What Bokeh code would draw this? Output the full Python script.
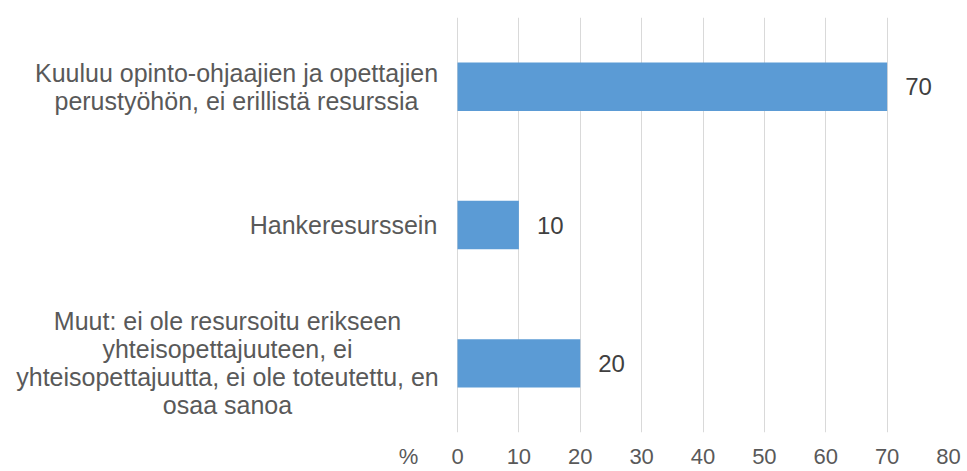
from bokeh.plotting import figure
from bokeh.models import (FactorRange, Range1d, ColumnDataSource, LabelSet,
                          FixedTicker)
from bokeh.core.properties import value
from bokeh.embed import file_html
from bokeh.resources import INLINE

categories = [
    "Kuuluu opinto-ohjaajien ja opettajien\nperustyöhön, ei erillistä resurssia",
    "Hankeresurssein",
    "Muut: ei ole resursoitu erikseen\nyhteisopettajuuteen, ei\nyhteisopettajuutta, ei ole toteutettu, en\nosaa sanoa",
]
values = [70, 10, 20]
value_labels = ["70", "10", "20"]
x_ticks = [0, 10, 20, 30, 40, 50, 60, 70, 80]
axis_unit = "%"

FONT = "Liberation Sans"
BAR = "#5B9BD5"

# layout (pixels): frame spans the whole width so the category texts can live in it
W, H = 967, 471
ZERO_PX, END_PX = 457, 948
px_per_unit = (END_PX - ZERO_PX) / 80.0
x_start = -ZERO_PX / px_per_unit

def px_to_x(px):
    return (px - ZERO_PX) / px_per_unit

label_centers = [px_to_x(c) for c in (236, 343, 227)]
unit_pos = px_to_x(408)

src = ColumnDataSource(dict(cat=categories, val=values, lab=value_labels))
cat_src = ColumnDataSource(dict(cat=categories, cx=label_centers))

p = figure(width=W, height=H, output_backend="svg", toolbar_location=None,
           y_range=FactorRange(factors=list(reversed(categories)), range_padding=0),
           x_range=Range1d(x_start, 80),
           min_border_left=0, min_border_right=W - END_PX, min_border_top=17,
           min_border_bottom=39)
p.outline_line_color = None
p.background_fill_color = "white"
p.border_fill_color = "white"

p.hbar(y="cat", right="val", height=0.35, left=0, source=src,
       fill_color=BAR, line_color=None)

p.text(x="cx", y="cat", text="cat", source=cat_src,
       text_align="center", text_baseline="middle",
       text_font=value(FONT), text_font_size=value("25px"),
       text_color="#595959", text_line_height=1.0)

p.yaxis.visible = False
p.ygrid.grid_line_color = None
p.xgrid.ticker = FixedTicker(ticks=x_ticks)
p.xgrid.grid_line_color = "#D9D9D9"
p.xgrid.grid_line_width = 1

xa = p.xaxis[0]
xa.ticker = FixedTicker(ticks=[unit_pos] + x_ticks)
xa.major_label_overrides = {unit_pos: axis_unit}
xa.axis_line_color = None
xa.major_tick_line_color = None
xa.minor_tick_line_color = None
xa.major_label_standoff = 5
xa.major_label_text_font = FONT
xa.major_label_text_font_size = "22px"
xa.major_label_text_color = "#595959"

p.add_layout(LabelSet(x="val", y="cat", text="lab", source=src, x_offset=18,
                      text_baseline="middle", text_align="left",
                      text_font=value(FONT), text_font_size=value("24px"),
                      text_color=value("#404040")))

open("out.html", "w").write(file_html(p, INLINE))
